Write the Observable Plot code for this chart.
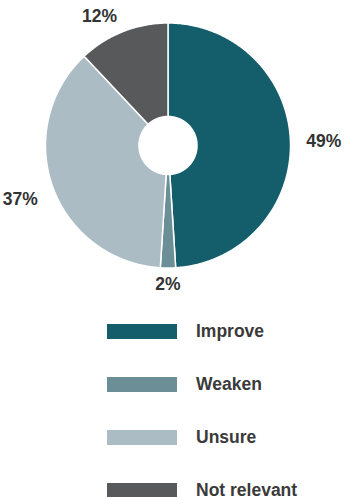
<!DOCTYPE html>
<html>
<head>
<meta charset="utf-8">
<script src="https://cdn.jsdelivr.net/npm/d3@7"></script>
<script src="https://cdn.jsdelivr.net/npm/@observablehq/plot@0.6"></script>
<style>
  html, body { margin: 0; padding: 0; background: #fff; }
  body { width: 344px; height: 497px; overflow: hidden; font-family: "Liberation Sans", Arial, Helvetica, sans-serif; }
  #legend { position: relative; margin-left: 107px; margin-top: 24px; }
  .item { display: flex; align-items: center; height: 15px; margin-bottom: 38px; }
  .sw { width: 70px; height: 15px; margin-right: 19px; flex: none; }
  .lb { font-size: 17.5px; font-weight: bold; color: #3a3a3a; white-space: nowrap; line-height: 15px; }
</style>
</head>
<body>
<div id="chart"></div>
<div id="legend"></div>
<script>
const categories = ["Improve", "Weaken", "Unsure", "Not relevant"];
const values = [49, 2, 37, 12];
const labels = ["49%", "2%", "37%", "12%"];
const colors = ["#135e6a", "#6b8e97", "#abbcc5", "#58595b"];

const inner = 0.237;
const labelR = 1.13;

const pie = d3.pie().sort(null).value(d => d.value)(categories.map((c, i) => ({category: c, value: values[i]})));

const poly = [];
pie.forEach(p => {
  const n = Math.max(4, Math.ceil((p.endAngle - p.startAngle) / 0.01));
  for (let k = 0; k <= n; k++) {
    const a = p.startAngle + (p.endAngle - p.startAngle) * k / n;
    poly.push({category: p.data.category, x: Math.sin(a), y: Math.cos(a)});
  }
  for (let k = n; k >= 0; k--) {
    const a = p.startAngle + (p.endAngle - p.startAngle) * k / n;
    poly.push({category: p.data.category, x: inner * Math.sin(a), y: inner * Math.cos(a)});
  }
  const a0 = p.startAngle;
  poly.push({category: p.data.category, x: Math.sin(a0), y: Math.cos(a0)});
});

const labelData = pie.map((p, i) => {
  const a = (p.startAngle + p.endAngle) / 2;
  const x = labelR * Math.sin(a), y = labelR * Math.cos(a);
  const anchor = x > 0.3 ? "start" : x < -0.3 ? "end" : "middle";
  const line = (anchor !== "middle" && y < -0.2) ? "top" : "middle";
  return {category: p.data.category, label: labels[i], x, y, anchor, line};
});

const textOpts = {x: "x", y: "y", text: "label", fontSize: 17.5, fontWeight: "bold", fill: "#333"};
const groups = [];
for (const anchor of ["start", "end", "middle"]) {
  for (const line of ["top", "middle"]) {
    const sub = labelData.filter(d => d.anchor === anchor && d.line === line);
    if (sub.length) groups.push(Plot.text(sub, {...textOpts, textAnchor: anchor, lineAnchor: line}));
  }
}

const plot = Plot.plot({
  width: 344,
  height: 300,
  margin: 0,
  x: {domain: [-167.5 / 122.5, (344 - 167.5) / 122.5], axis: null},
  y: {domain: [-155 / 122.5, 145 / 122.5], axis: null},
  color: {domain: categories, range: colors},
  style: {fontFamily: '"Liberation Sans", Arial, Helvetica, sans-serif', background: "#fff"},
  marks: [
    Plot.line(poly, {x: "x", y: "y", z: "category", fill: "category", stroke: "#fff", strokeWidth: 1.5, curve: "linear"}),
    ...groups
  ]
});
document.getElementById("chart").appendChild(plot);

const legend = document.getElementById("legend");
categories.forEach((c, i) => {
  const item = document.createElement("div");
  item.className = "item";
  const sw = document.createElement("div");
  sw.className = "sw";
  sw.style.background = colors[i];
  const lb = document.createElement("div");
  lb.className = "lb";
  lb.textContent = c;
  item.appendChild(sw);
  item.appendChild(lb);
  legend.appendChild(item);
});
</script>
</body>
</html>
